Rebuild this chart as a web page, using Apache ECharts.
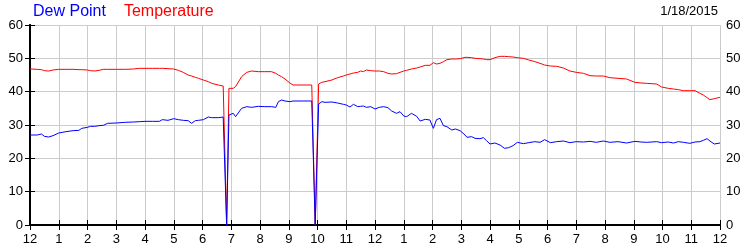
<!DOCTYPE html>
<html>
<head>
<meta charset="utf-8">
<script src="https://cdn.jsdelivr.net/npm/echarts@6/dist/echarts.min.js"></script>
<style>html,body{margin:0;padding:0;background:#fff;}#c{width:750px;height:250px;}</style>
</head>
<body>
<div id="c"></div>
<script>
var xLabels = ['12','1','2','3','4','5','6','7','8','9','10','11','12','1','2','3','4','5','6','7','8','9','10','11','12'];
var hours = [0.00,0.25,0.40,0.50,0.65,0.80,1.00,1.25,1.50,1.70,1.80,2.00,2.10,2.25,2.40,2.55,2.70,3.00,3.30,3.60,3.80,4.00,4.25,4.50,4.60,4.80,5.00,5.16,5.33,5.50,5.62,5.75,5.86,6.03,6.20,6.32,6.55,6.72,6.76,6.84,6.92,7.07,7.15,7.19,7.36,7.54,7.71,7.94,8.17,8.40,8.55,8.64,8.75,8.87,8.93,9.04,9.15,9.50,9.80,9.84,9.92,10.04,10.15,10.26,10.50,10.70,10.90,11.00,11.13,11.25,11.40,11.50,11.60,11.70,11.85,12.00,12.15,12.30,12.45,12.58,12.75,12.87,13.00,13.10,13.27,13.45,13.57,13.75,13.91,14.03,14.14,14.26,14.38,14.50,14.67,14.80,14.96,15.02,15.13,15.20,15.36,15.48,15.65,15.77,15.88,16.00,16.17,16.35,16.50,16.65,16.80,16.95,17.16,17.35,17.56,17.74,17.90,18.10,18.32,18.55,18.78,19.00,19.25,19.48,19.70,19.94,20.17,20.45,20.75,21.04,21.25,21.45,21.80,21.97,22.20,22.38,22.55,22.73,22.95,23.13,23.30,23.42,23.55,23.65,23.80,24.00];
var temperature = [46.8,46.7,46.6,46.3,46.2,46.5,46.7,46.7,46.7,46.6,46.6,46.5,46.3,46.2,46.4,46.7,46.7,46.7,46.7,46.8,47.0,47.0,47.0,47.0,47.0,46.9,46.8,46.4,45.8,45.0,44.7,44.3,44.0,43.5,43.0,42.5,42.0,41.7,41.7,0,41.0,41.0,41.5,42.0,44.5,45.8,46.2,46.0,46.0,46.0,45.5,45.0,44.5,43.8,43.5,42.6,42.0,42.0,42.0,42.2,0,42.3,42.8,43.0,43.5,44.2,44.7,45.0,45.3,45.6,45.8,46.2,46.0,46.5,46.3,46.2,46.2,46.0,45.5,45.3,45.4,45.8,46.2,46.4,46.8,47.1,47.4,47.9,47.9,48.7,48.3,48.5,49.0,49.6,49.8,49.8,49.9,50.2,50.3,50.3,50.2,50.0,49.9,49.8,49.6,49.6,50.2,50.6,50.6,50.5,50.4,50.2,50.0,49.5,49.0,48.5,48.0,47.7,47.6,47.1,46.2,45.8,45.5,44.8,44.7,44.7,44.2,44.0,43.8,42.8,42.6,42.5,42.3,41.4,41.0,40.8,40.6,40.3,40.3,40.3,39.5,39.0,38.2,37.6,37.9,38.3];
var dewPoint = [27.0,27.0,27.3,26.6,26.4,26.8,27.6,28.0,28.3,28.4,29.0,29.3,29.6,29.6,29.8,29.9,30.5,30.6,30.8,30.9,31.0,31.1,31.1,31.1,31.6,31.4,31.9,31.6,31.4,31.3,30.5,31.3,31.4,31.6,32.4,32.2,32.2,32.4,32.4,0,33.0,33.5,32.5,33.0,35.0,35.5,35.3,35.6,35.5,35.5,35.3,37.0,37.5,37.2,37.6,37.0,37.2,37.2,37.2,37.2,0,36.3,37.0,36.8,36.9,36.6,36.2,36.0,35.4,36.2,35.5,35.6,35.7,35.3,35.5,34.8,35.3,35.5,35.2,34.2,33.5,34.0,32.7,32.5,33.5,32.6,31.2,31.7,31.5,29.0,31.6,32.0,29.8,29.5,28.5,28.8,28.3,28.6,27.0,26.3,26.5,26.0,25.9,26.2,25.3,24.3,24.6,24.0,23.0,23.2,23.8,24.8,24.4,24.7,25.0,24.8,25.6,24.7,25.0,25.2,24.7,25.0,24.9,25.1,24.8,25.2,24.8,25.0,24.6,25.1,24.9,24.8,25.0,24.7,24.9,24.6,25.0,24.8,24.5,24.9,25.0,25.4,25.9,25.2,24.3,24.6];
var dateText = '1/18/2015';

function pairs(vals){ return hours.map(function(h,i){ return [h, vals[i]]; }); }

var font = 'Liberation Sans, Arial, sans-serif';
var chart = echarts.init(document.getElementById('c'), null, {renderer:'canvas'});
var axisLine = {show:true, lineStyle:{color:'#000', width:2}};
var axisTick = {show:true, inside:true, length:5, lineStyle:{color:'#000', width:1}};
chart.setOption({
  animation:false,
  backgroundColor:'#fff',
  title:{text:dateText, right:32, top:5, padding:0, textStyle:{fontSize:13, fontWeight:'normal', color:'#000', fontFamily:font}},
  legend:{left:28, top:3, padding:0, icon:'none', itemWidth:0, itemHeight:18, itemGap:13,
    textStyle:{fontSize:16, fontFamily:font},
    data:[{name:'Dew Point', textStyle:{color:'#0000ff'}},{name:'Temperature', textStyle:{color:'#ff0000'}}]},
  grid:{left:30, right:30, top:25, bottom:25},
  xAxis:[
    {type:'value', min:0, max:24, interval:1, position:'bottom', axisLine:axisLine, axisTick:axisTick,
     axisLabel:{show:true, showMinLabel:true, showMaxLabel:true, color:'#000', fontSize:13, fontFamily:font, margin:8,
       formatter:function(v){ return xLabels[Math.round(v)]; }},
     splitLine:{show:true, lineStyle:{color:'#cccccc', width:1}}},
    {type:'value', min:0, max:24, interval:1, position:'top', axisLine:axisLine, axisTick:axisTick,
     axisLabel:{show:false}, splitLine:{show:false}}
  ],
  yAxis:[
    {type:'value', min:0, max:60, interval:10, position:'left', axisLine:axisLine, axisTick:axisTick,
     axisLabel:{color:'#000', fontSize:13, fontFamily:font, margin:7},
     splitLine:{show:true, lineStyle:{color:'#cccccc', width:1}}},
    {type:'value', min:0, max:60, interval:10, position:'right', axisLine:axisLine, axisTick:axisTick,
     axisLabel:{color:'#000', fontSize:13, fontFamily:font, margin:6},
     splitLine:{show:false}}
  ],
  series:[
    {name:'Temperature', type:'line', data:pairs(temperature), showSymbol:false, symbol:'none',
     lineStyle:{color:'#ff0000', width:1}, itemStyle:{color:'#ff0000'}},
    {name:'Dew Point', type:'line', data:pairs(dewPoint), showSymbol:false, symbol:'none',
     lineStyle:{color:'#0000ff', width:1}, itemStyle:{color:'#0000ff'}}
  ]
});
</script>
</body>
</html>
